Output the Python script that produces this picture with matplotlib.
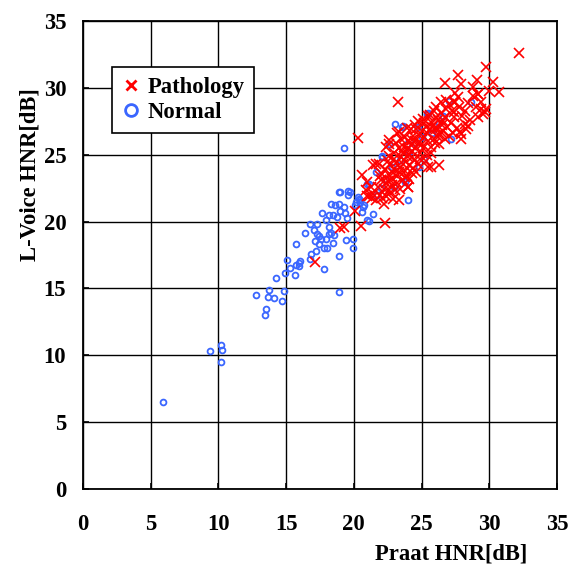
import matplotlib
matplotlib.use("Agg")
import matplotlib.pyplot as plt
from matplotlib.lines import Line2D

# ---------------- data ----------------
normal_x = [5.93, 9.39, 10.17, 10.29, 10.17,
            12.75, 13.75, 13.63, 14.09, 13.53, 13.41, 14.22,
            14.85, 14.73, 14.95, 15.07,
            15.3, 15.64, 15.74, 15.92, 16.04, 15.97, 15.74, 16.73, 16.81, 17.23, 17.77,
            16.41, 16.73, 17.3, 17.06, 17.28, 17.45, 17.1, 17.43, 17.77, 18.04, 17.57, 17.95,
            18.14, 18.34, 18.51, 18.44, 18.14, 17.97, 17.67, 18.14, 18.44, 18.34, 18.59, 18.89,
            19.01, 19.26, 19.38, 19.5, 18.76, 18.89, 19.58, 19.55, 18.89, 18.89, 19.43, 19.93,
            19.93, 20.17, 20.32, 20.45, 20.12, 20.74, 20.62, 20.94, 20.99,
            19.25, 23.06, 21.62, 24.03, 21.38, 21.09, 22.05, 25.2, 21.14, 19.69, 18.96, 20.65,
            20.36, 20.48,
            28.63, 25.49, 23.58, 27.16, 23.77, 24.75, 27.06, 23.63, 22.6, 22.06, 25.42,
            22.3, 22.8, 23.4, 24.1, 24.5, 25.8, 26.3, 23.0, 24.8, 26.6, 22.0, 21.7, 23.9, 25.0]
normal_y = [6.54, 10.3, 10.75, 10.4, 9.5,
            14.5, 14.85, 14.38, 14.28, 13.48, 13.03, 15.75,
            14.83, 14.05, 16.19, 17.11,
            16.52, 15.97, 16.72, 16.92, 17.04, 16.67, 18.36, 17.19, 17.61, 17.81, 16.42,
            19.18, 19.85, 19.85, 19.4, 19.1, 18.9, 18.53, 18.36, 17.99, 17.99, 18.68, 18.73,
            19.1, 19.15, 19.03, 18.43, 19.6, 20.15, 20.65, 20.47, 20.47, 21.32, 21.22, 21.34,
            20.77, 21.09, 20.65, 20.27, 20.35, 22.21, 22.26, 22.01, 17.44, 14.73, 18.6, 18.71,
            18.03, 21.47, 21.84, 21.59, 21.22, 21.22, 20.72, 22.79, 20.1,
            25.53, 27.33, 23.7, 21.63, 20.53, 20.08, 24.88, 24.7, 22.83, 22.2, 22.2, 21.08,
            21.7, 21.45,
            28.93, 28.1, 27.1, 26.18, 22.93, 27.05, 29.05, 27.13, 25.8, 24.83, 28.08,
            23.2, 24.1, 24.6, 25.2, 25.9, 26.6, 27.4, 22.6, 24.1, 27.9, 22.5, 22.0, 25.8, 26.3]

path_x = [17.13, 19.0, 19.26, 20.07, 20.54, 20.99,
          20.27, 22.61, 20.62, 22.31, 21.37, 20.87,
          21.43, 21.0, 21.26, 21.62, 21.09, 21.9, 23.31, 24.03, 25.48, 22.58, 21.86, 22.1,
          22.7, 23.07, 22.58, 22.22, 21.38,
          25.66, 23.28, 29.17, 29.66, 29.41, 28.19, 27.82, 27.45, 27.21, 26.72, 26.1, 25.74,
          26.23, 24.02, 23.77, 24.51, 24.26, 23.53,
          32.21, 29.75, 27.67, 26.74, 29.09, 27.92, 28.77, 30.25, 30.0, 30.74, 29.14, 29.39,
          29.75, 29.5, 27.43, 26.45, 27.43, 28.41, 27.92, 29.14,
          22.4, 23.33, 21.62,
          21.8, 22.0, 22.2, 22.3, 22.4, 22.5, 21.9, 22.1, 22.6, 22.4,
          22.7, 22.8, 22.9, 22.6, 23.0, 22.8, 22.9, 22.7, 23.0, 22.5,
          23.1, 23.2, 23.3, 23.4, 23.2, 23.5, 23.1, 23.4, 23.3, 23.5, 23.0, 23.2,
          23.6, 23.7, 23.8, 23.9, 23.6, 23.8, 24.0, 23.7, 23.9, 24.0, 23.6, 23.9,
          24.1, 24.2, 24.3, 24.4, 24.1, 24.5, 24.3, 24.2, 24.4, 24.5, 24.1, 24.3,
          24.6, 24.7, 24.8, 24.9, 24.6, 25.0, 24.7, 24.9, 24.8, 25.0, 24.6,
          25.1, 25.2, 25.3, 25.4, 25.1, 25.5, 25.3, 25.2, 25.4, 25.5,
          25.6, 25.7, 25.8, 25.9, 25.6, 26.0, 25.7, 25.9, 26.0,
          26.1, 26.2, 26.3, 26.4, 26.2, 26.5, 26.1, 26.4, 26.3,
          26.6, 26.7, 26.8, 26.9, 27.0, 26.6, 27.0, 26.8,
          27.2, 27.4, 27.6, 27.8, 27.3, 27.7, 28.0, 27.5, 28.2, 27.9,
          28.4, 28.6, 28.8, 28.3, 29.0]
path_y = [16.99, 19.5, 19.6, 20.8, 19.68, 21.9,
          26.28, 25.83, 23.45, 19.88, 21.8, 22.33,
          24.2, 22.95, 22.58, 21.58, 21.88, 21.95, 21.58, 22.58, 24.08, 26.08, 24.33, 23.58,
          23.08, 22.33, 22.33, 21.33, 22.08,
          24.05, 28.93, 29.55, 28.18, 28.43, 27.3, 26.68, 28.93, 28.3, 27.8, 27.8, 27.05,
          26.55, 22.55, 23.3, 26.05, 24.8, 25.3,
          32.6, 31.55, 30.93, 30.35, 30.6, 30.3, 30.05, 30.43, 29.8, 29.68, 29.55, 28.93,
          28.43, 28.05, 28.93, 28.93, 27.8, 27.18, 26.55, 27.85,
          25.6, 26.7, 24.33,
          22.6, 23.1, 22.4, 23.9, 22.9, 24.5, 23.4, 21.8, 23.5, 21.9,
          24.2, 22.7, 23.6, 24.9, 25.1, 23.2, 21.7, 22.1, 23.9, 23.0,
          24.4, 22.9, 25.5, 24.0, 23.4, 24.8, 25.9, 22.4, 23.7, 26.2, 24.7, 26.6,
          24.3, 25.6, 23.8, 24.9, 23.1, 26.3, 25.4, 24.6, 23.4, 26.0, 25.1, 27.0,
          24.2, 25.7, 23.6, 26.4, 25.0, 24.6, 25.3, 26.9, 24.0, 27.2, 23.2, 26.1,
          25.6, 24.3, 26.5, 25.1, 26.9, 25.8, 27.5, 24.7, 25.9, 26.8, 23.7,
          25.5, 26.3, 27.1, 25.0, 27.7, 26.0, 24.5, 27.4, 26.6, 27.9,
          26.9, 25.6, 27.4, 26.2, 28.0, 27.0, 25.1, 28.3, 25.9,
          26.9, 27.6, 25.8, 28.1, 26.3, 27.2, 28.6, 26.7, 24.2,
          27.5, 26.2, 28.4, 27.1, 28.8, 26.8, 26.4, 29.1,
          27.4, 28.2, 27.0, 28.6, 26.6, 29.3, 27.9, 29.6, 28.3, 26.2,
          28.9, 27.6, 29.4, 26.9, 28.6]

ticks = [0, 5, 10, 15, 20, 25, 30, 35]
series_names = ["Pathology", "Normal"]
x_label = "Praat HNR[dB]"
y_label = "L-Voice HNR[dB]"

# ---------------- style ----------------
RED = "#ff0000"
BLUE = "#3a66ff"
serif = ["Liberation Serif", "DejaVu Serif"]
FS = 16.3

fig = plt.figure(figsize=(5.74, 5.65), dpi=100)
ax = fig.add_axes([83 / 574, 1 - 489 / 565, (557 - 83) / 574, (489 - 21) / 565])

ax.plot(normal_x, normal_y, linestyle="none", marker="o", markersize=4.2,
        markerfacecolor="none", markeredgecolor=BLUE, markeredgewidth=1.3, zorder=3)
ax.plot(path_x, path_y, linestyle="none", marker="x", markersize=7.5,
        color=RED, markeredgewidth=1.2, zorder=4)

ax.set_xlim(0, 35)
ax.set_ylim(0, 35)
ax.set_xticks(ticks)
ax.set_yticks(ticks)
ax.grid(True, color="black", linewidth=1.0, zorder=0)
ax.set_axisbelow(True)
for s in ax.spines.values():
    s.set_linewidth(1.3)
    s.set_color("black")
ax.tick_params(direction="in", length=4, width=1.2)
ax.tick_params(axis="x", pad=18)
ax.tick_params(axis="y", pad=12)

for lab in ax.get_xticklabels() + ax.get_yticklabels():
    lab.set_fontfamily(serif)
    lab.set_fontweight("bold")
    lab.set_fontsize(FS)

fig.text(451 / 574, 1 - 554 / 565, x_label, ha="center", va="center",
         fontsize=FS, fontweight="bold", family=serif)
fig.text(30 / 574, 1 - 175 / 565, y_label, ha="center", va="center", rotation=90,
         fontsize=FS, fontweight="bold", family=serif)

handles = [Line2D([], [], linestyle="none", marker="x", markersize=6.5, color=RED,
                  markeredgewidth=2.0),
           Line2D([], [], linestyle="none", marker="o", markersize=8.5,
                  markerfacecolor="white", markeredgecolor=BLUE, markeredgewidth=2.0)]
leg = fig.legend(handles, series_names, loc="upper left",
                 bbox_to_anchor=(112 / 574, 1 - 67 / 565),
                 prop={"family": serif, "weight": "bold", "size": FS},
                 frameon=True, fancybox=False, shadow=False, framealpha=1,
                 edgecolor="black", handlelength=0.8, handletextpad=0.35,
                 borderpad=0.42, labelspacing=0.2, borderaxespad=0)
leg.get_frame().set_linewidth(1.2)

fig.savefig("out.png", dpi=100)
